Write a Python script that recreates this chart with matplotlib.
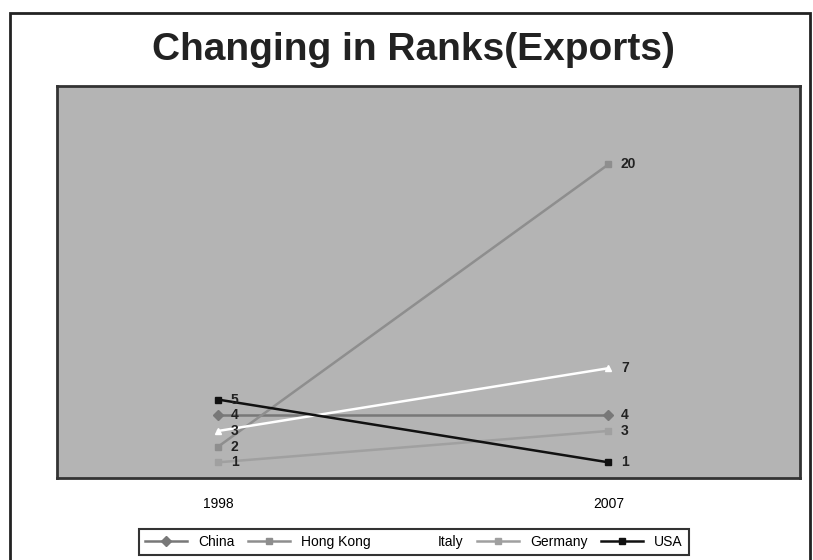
import matplotlib
matplotlib.use('Agg')
import matplotlib.pyplot as plt
from matplotlib.patches import Rectangle

# Data
years = ['1998', '2007']
countries = ['China', 'Hong Kong', 'Italy', 'Germany', 'USA']
china = [4, 4]
hong_kong = [2, 20]
italy = [3, 7]
germany = [1, 3]
usa = [5, 1]

series = [china, hong_kong, italy, germany, usa]
colors = ['#787878', '#8e8e8e', '#ffffff', '#a0a0a0', '#111111']
markers = ['D', 's', '^', 's', 's']

plt.rcParams['font.family'] = ['Liberation Sans', 'DejaVu Sans']

fig = plt.figure(figsize=(8.13, 5.6), dpi=100)
ax = fig.add_axes([57 / 813, 1 - 478 / 560, (800 - 57) / 813, (478 - 86) / 560])
ax.set_facecolor('#b4b4b4')

x = list(range(len(years)))
for name, vals, c, m in zip(countries, series, colors, markers):
    ax.plot(x, vals, color=c, marker=m, markersize=5, linewidth=1.8,
            markeredgecolor=c, label=name)
    for xi, v in zip(x, vals):
        ax.annotate(str(v), (xi, v), xytext=(9, 0), textcoords='offset points',
                    va='center', ha='left', fontsize=10, fontweight='bold',
                    color='#222222')

ax.set_xlim(-0.413, 1.491)
ax.set_ylim(0, 25)
ax.set_yticks([])
ax.set_xticks(x)
ax.set_xticklabels(years, fontsize=10)
ax.tick_params(axis='x', length=0, pad=14)
for s in ax.spines.values():
    s.set_color('#333333')
    s.set_linewidth(2)

fig.suptitle('Changing in Ranks(Exports)', x=0.508, y=1 - 50 / 560, va='center',
             fontsize=28, fontweight='bold', color='#222222')

leg = fig.legend(loc='center', bbox_to_anchor=(414 / 813, 1 - 542 / 560), ncol=5,
                 fontsize=10, frameon=True, fancybox=False, edgecolor='black',
                 handlelength=3, columnspacing=1.0, borderpad=0.45)
leg.get_frame().set_linewidth(1.5)

# outer chart border
fig.patches.append(Rectangle((10 / 813, -0.1), 800 / 813, 1.1 - 13 / 560,
                             transform=fig.transFigure, fill=False,
                             edgecolor='#222222', linewidth=2))

plt.savefig('out.png', dpi=100)
